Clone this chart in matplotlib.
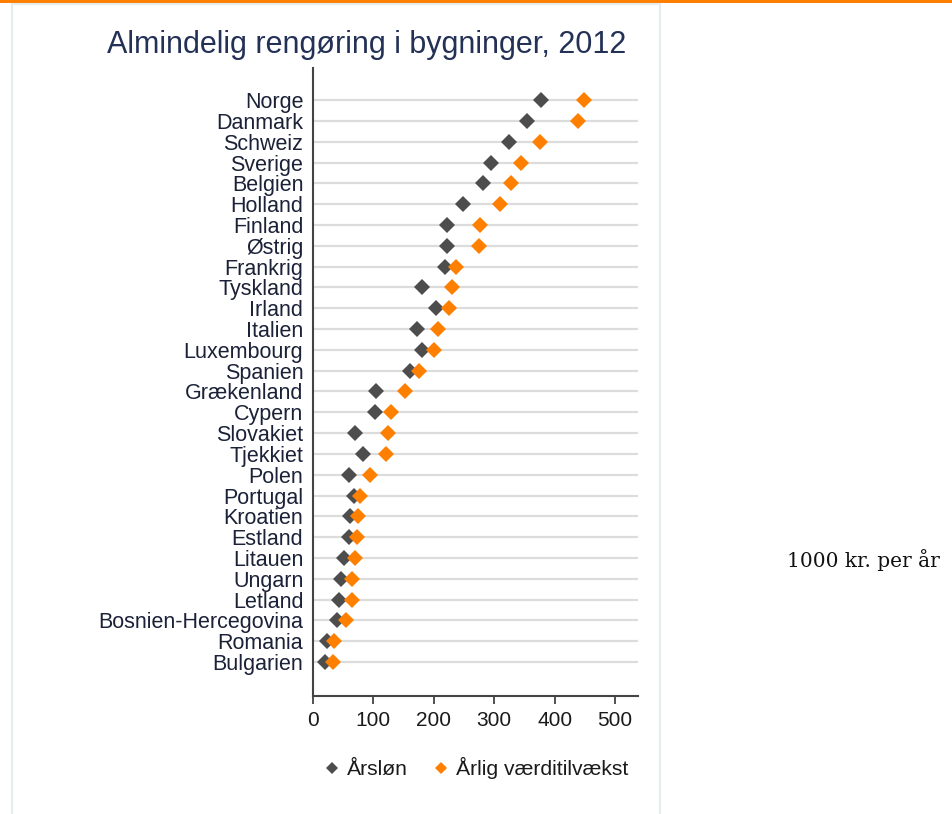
import matplotlib
matplotlib.use("Agg")
import matplotlib.pyplot as plt
from matplotlib.patches import Rectangle

# data (1000 kr. per år)
lande = ["Norge", "Danmark", "Schweiz", "Sverige", "Belgien", "Holland", "Finland",
         "Østrig", "Frankrig", "Tyskland", "Irland", "Italien", "Luxembourg", "Spanien",
         "Grækenland", "Cypern", "Slovakiet", "Tjekkiet", "Polen", "Portugal", "Kroatien",
         "Estland", "Litauen", "Ungarn", "Letland", "Bosnien-Hercegovina", "Romania",
         "Bulgarien"]
aarsloen = [378, 354, 324, 295, 282, 248, 222, 222, 219, 181, 204, 172, 180, 161,
            105, 102, 70, 82, 60, 68, 62, 60, 52, 47, 43, 40, 23, 20]
vaerditilvaekst = [449, 438, 376, 344, 327, 310, 276, 274, 236, 230, 225, 207, 200, 175,
                   153, 129, 124, 121, 94, 77, 75, 73, 70, 65, 65, 55, 35, 33]
x_ticks = [0, 100, 200, 300, 400, 500]

MORK = "#4d4d4d"
ORANGE = "#ff8000"
TEKST = "#1b2238"

plt.rcParams["font.family"] = ["Liberation Sans", "DejaVu Sans"]

fig = plt.figure(figsize=(9.52, 8.14), dpi=100)

# baggrund: orange streg i toppen og lys ramme om figuren
fig.patches.append(Rectangle((0, 1 - 3 / 814), 1, 3 / 814, transform=fig.transFigure,
                             facecolor=ORANGE, edgecolor="none", zorder=-2))
fig.patches.append(Rectangle((12 / 952, -0.01), 648 / 952, 1 - 4 / 814 + 0.01,
                             transform=fig.transFigure, facecolor="white",
                             edgecolor="#e4ecee", linewidth=1.5, zorder=-1))

ax = fig.add_axes([313 / 952, 1 - 696 / 814, 325 / 952, 628 / 814])
ax.set_zorder(2)
ax.set_facecolor("none")

n = len(lande)
y = [n - 1 - i for i in range(n)]

for yy in y:
    ax.axhline(yy, color="#dcdcdc", linewidth=1.6, zorder=1)

ax.plot(aarsloen, y, linestyle="none", marker="D", markersize=7.8, color=MORK,
        markeredgewidth=0, label="Årsløn", zorder=3)
ax.plot(vaerditilvaekst, y, linestyle="none", marker="D", markersize=7.8, color=ORANGE,
        markeredgewidth=0, label="Årlig værditilvækst", zorder=3)

ax.set_xlim(0, 538)
ax.set_ylim(-1.63, n - 1 + 1.54)
ax.set_xticks(x_ticks)
ax.set_yticks(y)
ax.set_yticklabels(lande, fontsize=15.5, color=TEKST)
ax.tick_params(axis="y", length=0, pad=7)
ax.tick_params(axis="x", length=6, width=1.2, color="#333333", labelsize=15,
               labelcolor="#1a1a1a", pad=5)

for side in ["top", "right"]:
    ax.spines[side].set_visible(False)
for side in ["left", "bottom"]:
    ax.spines[side].set_color("#444444")
    ax.spines[side].set_linewidth(1.5)

fig.text(367 / 952, 1 - 45 / 814, "Almindelig rengøring i bygninger, 2012",
         ha="center", va="center", fontsize=22, color="#243156")

fig.legend(loc="center", bbox_to_anchor=(476 / 952, 1 - 768 / 814), ncol=2,
           frameon=False, fontsize=15.2, handlelength=0.8, handletextpad=0.3,
           columnspacing=1.2, markerscale=0.75, labelcolor="#1a1a1a")

fig.text(787 / 952, 1 - 560 / 814, "1000 kr. per år", ha="left", va="center",
         fontsize=14.5, family="DejaVu Serif", color="#111111")

fig.savefig("out.png", dpi=100)
